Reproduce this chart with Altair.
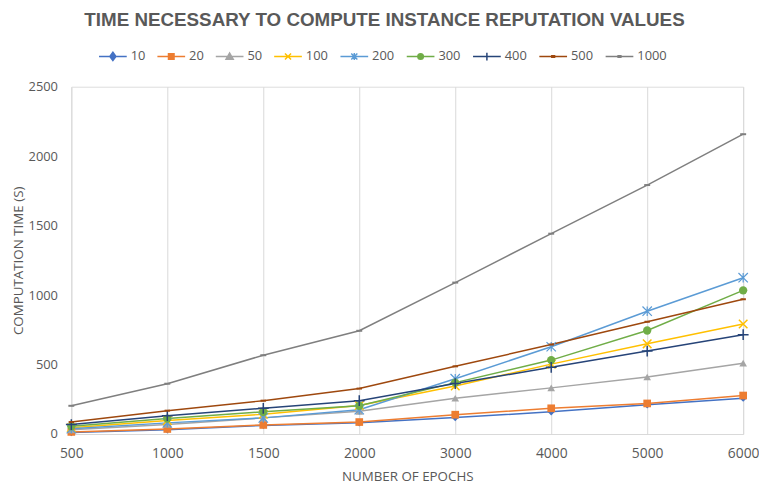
import altair as alt
import pandas as pd

epochs = [500, 1000, 1500, 2000, 3000, 4000, 5000, 6000]
series_names = ["10", "20", "50", "100", "200", "300", "400", "500", "1000"]
s10 = [10, 30, 62, 81, 118, 160, 210, 258]
s20 = [15, 36, 65, 86, 139, 185, 220, 277]
s50 = [30, 68, 116, 163, 257, 332, 410, 510]
s100 = [45, 97, 142, 205, 346, 503, 649, 792]
s200 = [38, 80, 116, 175, 398, 628, 884, 1125]
s300 = [55, 111, 160, 203, 370, 532, 745, 1034]
s400 = [68, 132, 185, 240, 363, 480, 597, 715]
s500 = [86, 168, 240, 327, 487, 644, 808, 970]
s1000 = [203, 362, 567, 743, 1090, 1442, 1792, 2158]
y_ticks = [0, 500, 1000, 1500, 2000, 2500]

colors = ["#4472C4", "#ED7D31", "#A5A5A5", "#FFC000", "#5B9BD5",
          "#70AD47", "#264478", "#9E480E", "#7F7F7F"]

all_series = [s10, s20, s50, s100, s200, s300, s400, s500, s1000]
rows = []
for name, vals in zip(series_names, all_series):
    for e, v in zip(epochs, vals):
        rows.append({"epochs": e, "series": name, "value": v})
df = pd.DataFrame(rows)

TXT = "#595959"
FONT = "Open Sans"

X_PATH = "M-1,-1L1,1M-1,1L1,-1"
PLUS_PATH = "M-1,0L1,0M0,-1L0,1"
AST_PATH = "M-1,-1L1,1M-1,1L1,-1M0,-1L0,1"
DASH_PATH = "M-1,0L1,0"

# (shape, filled, size, strokeWidth) per series, for the plotted markers
marker_styles = [
    ("diamond", True, 55, 1),
    ("square", True, 60, 1),
    ("triangle-up", True, 60, 1),
    (X_PATH, False, 75, 1.5),
    (AST_PATH, False, 90, 1.2),
    ("circle", True, 70, 1),
    (PLUS_PATH, False, 120, 1.5),
    (DASH_PATH, False, 30, 2),
    (DASH_PATH, False, 36, 2),
]

# legend symbols: line segment + small marker
LINE = "M-1,0L1,0"
legend_paths = [
    LINE + "M0,-0.3L0.22,0L0,0.3L-0.22,0Z",
    LINE + "M-0.2,-0.2L0.2,-0.2L0.2,0.2L-0.2,0.2Z",
    LINE + "M0,-0.25L0.26,0.2L-0.26,0.2Z",
    LINE + "M-0.22,-0.22L0.22,0.22M-0.22,0.22L0.22,-0.22",
    LINE + "M-0.22,-0.22L0.22,0.22M-0.22,0.22L0.22,-0.22M0,-0.26L0,0.26",
    LINE + "M0.2,0A0.2,0.2,0,1,1,-0.2,0A0.2,0.2,0,1,1,0.2,0Z",
    LINE + "M0,-0.28L0,0.28",
    LINE + "M-0.1,-0.05L0.1,-0.05L0.1,0.05L-0.1,0.05Z",
    LINE + "M-0.1,-0.05L0.1,-0.05L0.1,0.05L-0.1,0.05Z",
]

x_enc = alt.X(
    "epochs:O",
    scale=alt.Scale(type="point", padding=0),
    axis=alt.Axis(
        title="NUMBER OF EPOCHS", labelAngle=0, grid=True, gridColor="#D9D9D9",
        domainColor="#D9D9D9", ticks=False, labelPadding=13, titlePadding=9,
        labelFont=FONT, labelFontSize=14, labelColor=TXT,
        titleFont=FONT, titleFontSize=13.5, titleFontWeight="normal", titleColor=TXT,
    ),
)
y_enc = alt.Y(
    "value:Q",
    scale=alt.Scale(domain=[0, 2500], nice=False),
    axis=alt.Axis(
        values=y_ticks, format="d", title="COMPUTATION TIME (S)", grid=False, domain=False,
        ticks=False, labelPadding=14, titlePadding=3,
        labelFont=FONT, labelFontSize=13, labelColor=TXT,
        titleFont=FONT, titleFontSize=13.5, titleFontWeight="normal", titleColor=TXT,
    ),
)
# color scale ordered through sort (data domain) so it never merges with the legend scales
color_enc = alt.Color("series:N", sort=series_names, scale=alt.Scale(range=colors), legend=None)

base = alt.Chart(df)

lines = base.mark_line(strokeWidth=1.5).encode(x=x_enc, y=y_enc, color=color_enc)

point_layers = []
for name, (shape, filled, size, sw) in zip(series_names, marker_styles):
    point_layers.append(
        base.transform_filter(alt.datum.series == name)
        .mark_point(shape=shape, filled=filled, size=size, strokeWidth=sw, opacity=1)
        .encode(x=x_enc, y=y_enc, color=color_enc)
    )

leg = alt.Legend(
    title=None, orient="none", direction="horizontal", legendX=27, legendY=-46,
    labelFont=FONT, labelFontSize=13, labelColor=TXT, labelOffset=3,
    columnPadding=9, symbolSize=784, symbolStrokeWidth=1.5, symbolOpacity=1,
    columns=9,
)
legend_layer = base.mark_point(filled=True, opacity=0, size=784, strokeWidth=1.5).encode(
    x=x_enc, y=y_enc,
    fill=alt.Fill("series:N", scale=alt.Scale(domain=series_names, range=colors), legend=leg),
    stroke=alt.Stroke("series:N", scale=alt.Scale(domain=series_names, range=colors), legend=leg),
    shape=alt.Shape("series:N", scale=alt.Scale(domain=series_names, range=legend_paths), legend=leg),
)

chart = alt.layer(lines, *point_layers, legend_layer).properties(
    width=679, height=351,
    title=alt.TitleParams(
        "TIME NECESSARY TO COMPUTE INSTANCE REPUTATION VALUES",
        font="Liberation Sans", fontSize=19, fontWeight="bold", color=TXT, anchor="middle",
        dx=-23, offset=11,
    ),
    autosize=alt.AutoSizeParams(type="none"),
    padding={"left": 64, "top": 77, "right": 16, "bottom": 48},
).configure_view(stroke=None).configure(background="white")

chart.save("out.html", embed_options={"renderer": "svg", "actions": False})
